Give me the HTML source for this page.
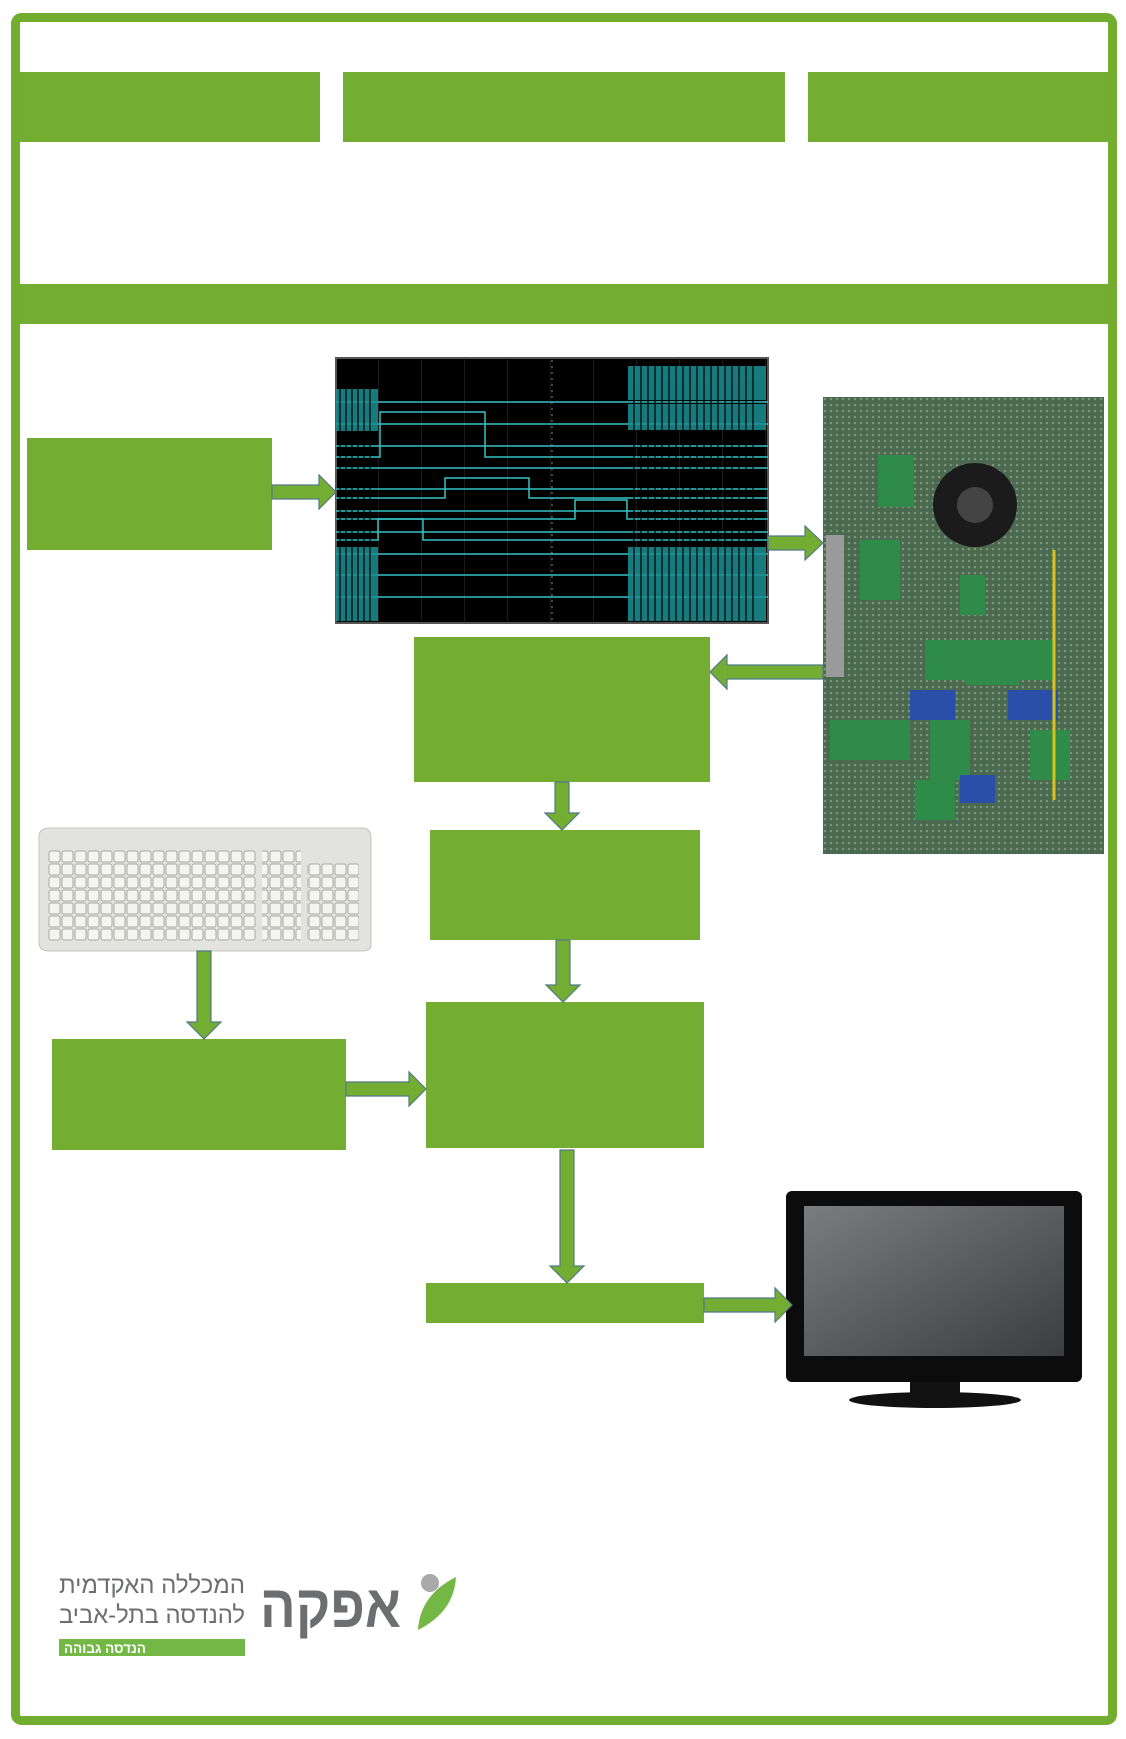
<!DOCTYPE html>
<html><head><meta charset="utf-8"><style>
html,body{margin:0;padding:0;background:#fff}
svg{display:block}
text{font-family:"Liberation Sans","Noto Sans CJK SC",sans-serif}
</style></head><body>
<svg width="1126" height="1739" viewBox="0 0 1126 1739" xmlns="http://www.w3.org/2000/svg">
<defs>
<pattern id="grid" width="43" height="26.5" patternUnits="userSpaceOnUse" x="336" y="358">
<path d="M43 0V26.5" stroke="#333" stroke-width="1" fill="none"/>
</pattern>
<pattern id="holes" width="6" height="6" patternUnits="userSpaceOnUse">
<rect width="6" height="6" fill="#4f6e55"/><circle cx="3" cy="3" r="1.3" fill="#8fa78e"/>
</pattern>
<pattern id="keys" width="13" height="13" patternUnits="userSpaceOnUse" x="48" y="850">
<rect x="1" y="1" width="11" height="11" rx="2" fill="#f4f4f1" stroke="#a9a9a4" stroke-width="1"/>
</pattern>
<linearGradient id="scr" x1="0" y1="0" x2="1" y2="1"><stop offset="0" stop-color="#7a7d80"/><stop offset="1" stop-color="#3b3d40"/></linearGradient>
</defs>
<rect x="15.5" y="17.5" width="1097" height="1703" rx="6" fill="none" stroke="#72ad2f" stroke-width="9"/>
<rect x="20" y="72" width="300" height="70" fill="#73ad31"/>
<rect x="343" y="72" width="442" height="70" fill="#73ad31"/>
<rect x="808" y="72" width="301" height="70" fill="#73ad31"/>
<rect x="20" y="284" width="1089" height="40" fill="#73ad31"/>

<g fill="#73ad31">
<rect x="27" y="438" width="245" height="112"/>
<rect x="414" y="637" width="296" height="145"/>
<rect x="430" y="830" width="270" height="110"/>
<rect x="52" y="1039" width="294" height="111"/>
<rect x="426" y="1002" width="278" height="146"/>
<rect x="426" y="1283" width="278" height="40"/>
</g>

<rect x="336" y="358" width="432" height="265" fill="#000" stroke="#555" stroke-width="2"/>
<rect x="336" y="358" width="432" height="265" fill="url(#grid)"/>
<g stroke="#36c3c3" stroke-width="1.5" fill="none">
<path d="M336 402H768M336 424H768M336 446H768M336 468H768M336 489H768M336 511H768M336 532H768M336 554H768M336 575H768M336 597H768"/>
<path d="M336 457H380V412H485V457H768"/>
<path d="M336 498H445V478H529V498H768"/>
<path d="M336 519H575V500H627V519H768"/>
<path d="M336 540H378V519H423V540H768"/>
</g>
<g fill="#1b8f92" opacity="0.85">
<rect x="628" y="366" width="138" height="34"/>
<rect x="336" y="389" width="42" height="42"/>
<rect x="628" y="404" width="138" height="26"/>
<rect x="336" y="547" width="42" height="74"/>
<rect x="628" y="547" width="138" height="74"/>
</g>
<g stroke="#000" stroke-width="1.2">
<path d="M340 366V621M346 366V621M352 366V621M358 366V621M364 366V621M370 366V621M634 366V621M641 366V621M648 366V621M655 366V621M662 366V621M669 366V621M676 366V621M683 366V621M690 366V621M697 366V621M704 366V621M711 366V621M718 366V621M725 366V621M732 366V621M739 366V621M746 366V621M753 366V621" />
</g>
<path d="M552 360V621" stroke="#888" stroke-dasharray="2 4"/>

<rect x="823" y="397" width="281" height="457" fill="url(#holes)"/>
<rect x="823" y="397" width="281" height="457" fill="#3c5a40" opacity="0.25"/>
<rect x="826" y="535" width="18" height="142" fill="#9a9a9a"/>
<circle cx="975" cy="505" r="42" fill="#1b1b1b"/><circle cx="975" cy="505" r="18" fill="#444"/>
<g fill="#2f8c48"><rect x="878" y="455" width="36" height="52"/><rect x="860" y="540" width="40" height="60"/><rect x="925" y="640" width="45" height="40"/><rect x="965" y="640" width="55" height="45"/><rect x="1015" y="640" width="40" height="40"/><rect x="830" y="720" width="80" height="40"/><rect x="930" y="720" width="40" height="60"/><rect x="1030" y="730" width="40" height="50"/><rect x="915" y="780" width="40" height="40"/><rect x="960" y="575" width="25" height="40"/></g>
<g fill="#2a4fa8"><rect x="910" y="690" width="45" height="30"/><rect x="1008" y="690" width="50" height="30"/><rect x="960" y="775" width="35" height="28"/></g>
<path d="M1054 550V800" stroke="#d6c21c" stroke-width="3"/>

<path d="M39 835 Q40 828 50 828 H362 Q371 828 371 838 V945 Q371 951 362 951 H50 Q39 951 39 943Z" fill="#e2e2de" stroke="#c4c4c0"/>
<rect x="48" y="850" width="208" height="91" fill="url(#keys)"/>
<rect x="262" y="850" width="39" height="91" fill="url(#keys)"/>
<rect x="307" y="863" width="52" height="78" fill="url(#keys)"/>

<rect x="786" y="1191" width="296" height="191" rx="6" fill="#0c0c0c"/>
<rect x="804" y="1206" width="260" height="150" fill="url(#scr)"/>
<path d="M910 1382h50v14h-50z" fill="#111"/>
<ellipse cx="935" cy="1400" rx="86" ry="8" fill="#111"/>

<g fill="#73ad31" stroke="#4f7a8a" stroke-width="1.2">
<path d="M272 485H319V475L336 492L319 509V499H272Z"/>
<path d="M768 536H805V526L823 543L805 560V550H768Z"/>
<path d="M823 665H727V655L710 672L727 689V679H823Z"/>
<path d="M555 782V813H545L562 830L579 813H569V782Z"/>
<path d="M556 940V985H546L563 1002L580 985H570V940Z"/>
<path d="M197 951V1022H187L204 1039L221 1022H211V951Z"/>
<path d="M346 1082H409V1072L426 1089L409 1106V1096H346Z"/>
<path d="M560 1150V1266H550L567 1283L584 1266H574V1150Z"/>
<path d="M704 1298H775V1288L792 1305L775 1322V1312H704Z"/>
</g>

<circle cx="430" cy="1583" r="9" fill="#a9a9a9"/>
<path d="M418 1630 Q420 1595 456 1577 Q454 1612 418 1630Z" fill="#73b744"/>
<text x="260" y="1627" font-size="60" font-weight="bold" fill="#6d6e70" textLength="141" lengthAdjust="spacingAndGlyphs" font-family="Liberation Sans,DejaVu Sans,sans-serif">אפקה</text>
<text x="59" y="1593" font-size="24" fill="#6d6e70" textLength="186" lengthAdjust="spacingAndGlyphs" font-family="DejaVu Sans,sans-serif">המכללה האקדמית</text>
<text x="59" y="1623" font-size="24" fill="#6d6e70" textLength="186" lengthAdjust="spacingAndGlyphs" font-family="DejaVu Sans,sans-serif">להנדסה בתל-אביב</text>
<rect x="59" y="1639" width="186" height="17" fill="#73b744"/>
<text x="64" y="1653" font-size="14" font-weight="bold" fill="#fff" textLength="82" lengthAdjust="spacingAndGlyphs" font-family="DejaVu Sans,sans-serif">הנדסה גבוהה</text>
</svg>
</body></html>
